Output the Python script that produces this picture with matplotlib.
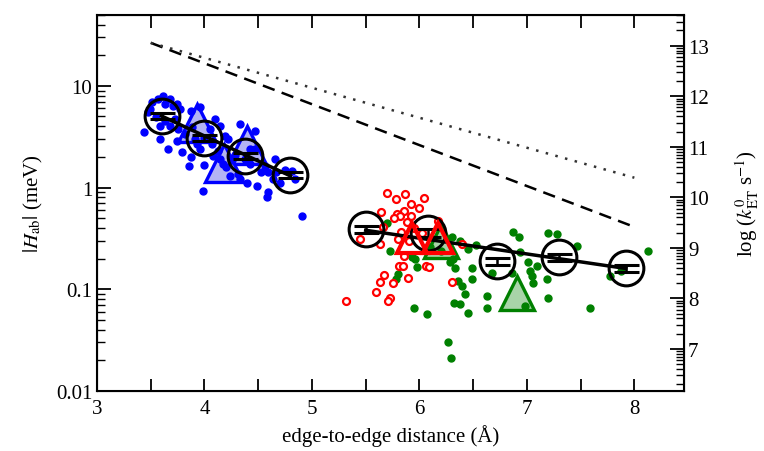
import numpy as np
import matplotlib
matplotlib.use("Agg")
import matplotlib.pyplot as plt
from matplotlib.ticker import LogLocator, FixedLocator, FixedFormatter, MultipleLocator, NullFormatter

plt.rcParams['font.family'] = ['Liberation Serif', 'DejaVu Serif']
plt.rcParams['mathtext.fontset'] = 'stix'

# blue set (short distances)
blue_x = [3.44, 3.47, 3.49, 3.51, 3.57, 3.61, 3.63, 3.68, 3.71, 3.74, 3.77, 3.55, 3.59, 3.68,
          3.63, 3.73, 3.74, 3.79, 3.87, 3.86, 4.00, 3.99, 3.82, 3.88, 3.91, 3.96, 4.05, 4.07,
          4.10, 4.14, 4.19, 4.22, 4.13, 4.14, 4.17, 4.24, 4.31, 4.33, 4.28, 4.38, 4.42, 4.40,
          4.49, 4.53, 4.56, 4.59, 4.66, 4.67, 4.59, 4.58, 4.70, 4.75, 4.84, 4.91, 4.47, 4.33,
          3.96, 3.87, 4.00, 3.59, 3.66, 3.75, 4.42, 4.47, 4.64, 4.81, 4.20, 4.26, 4.08, 3.93]
blue_y = [3.52, 5.54, 5.94, 6.96, 7.45, 7.96, 6.65, 7.45, 6.35, 6.65, 5.94, 4.95, 4.04, 4.04,
          4.5, 4.7, 2.87, 2.24, 2.0, 1.63, 1.66, 0.93, 3.37, 3.95, 3.0, 2.4, 3.8, 2.7,
          4.7, 4.04, 3.22, 3.0, 2.3, 1.9, 1.7, 1.3, 1.36, 1.2, 2.1, 1.9, 2.4, 1.12,
          1.03, 1.42, 1.63, 1.42, 1.9, 1.42, 0.90, 0.80, 1.1, 1.5, 1.22, 0.52, 3.6, 4.2,
          6.2, 5.7, 3.1, 3.0, 2.4, 3.8, 1.7, 2.4, 1.2, 1.45, 1.6, 1.85, 2.05, 2.7]

# red set (open circles)
red_x = [5.70, 5.87, 5.78, 6.04, 5.92, 6.00, 5.86, 5.64, 5.79, 5.82, 5.92, 5.76, 5.88, 5.66,
         5.83, 5.80, 5.63, 6.40, 5.90, 5.86, 5.81, 5.85, 6.06, 6.09, 5.89, 5.67, 5.63, 5.75,
         5.60, 6.30, 5.73, 5.71, 5.32, 5.45, 6.17, 5.95, 6.02]
red_y = [0.88, 0.86, 0.77, 0.79, 0.69, 0.63, 0.59, 0.58, 0.55, 0.52, 0.52, 0.50, 0.46, 0.41,
         0.365, 0.31, 0.28, 0.28, 0.30, 0.21, 0.17, 0.17, 0.17, 0.165, 0.13, 0.137, 0.117, 0.115,
         0.093, 0.117, 0.082, 0.076, 0.076, 0.31, 0.47, 0.40, 0.36]

# green set (filled dots)
green_x = [5.70, 5.73, 5.93, 5.96, 5.98, 5.80, 5.78, 5.95, 6.07, 6.27, 6.29, 6.31, 6.28, 6.33,
           6.36, 6.40, 6.42, 6.49, 6.49, 6.53, 6.32, 6.38, 6.45, 6.63, 6.63, 6.87, 6.93, 6.94,
           6.68, 7.20, 7.28, 7.47, 7.01, 7.09, 7.03, 7.05, 7.06, 6.86, 7.19, 7.20, 7.59, 8.13,
           6.98, 7.77, 7.88, 6.30, 6.38, 6.45, 6.10, 6.20]
green_y = [0.45, 0.24, 0.206, 0.20, 0.165, 0.14, 0.125, 0.065, 0.057, 0.030, 0.021, 0.20, 0.185, 0.16,
           0.12, 0.107, 0.089, 0.125, 0.16, 0.27, 0.074, 0.071, 0.059, 0.086, 0.066, 0.365, 0.33, 0.23,
           0.146, 0.36, 0.35, 0.265, 0.185, 0.17, 0.15, 0.135, 0.115, 0.146, 0.125, 0.082, 0.066, 0.237,
           0.068, 0.135, 0.15, 0.33, 0.30, 0.25, 0.26, 0.24]

# triangles
blue_tri_x = [3.93, 4.40, 4.18]
blue_tri_y = [4.3, 2.62, 1.75]
green_tri_x = [6.20, 6.91]
green_tri_y = [0.30, 0.091]
red_tri_x = [5.93, 6.17]
red_tri_y = [0.318, 0.318]

# averaged values with error bars
avg1_x = [3.6, 4.0, 4.38, 4.8]
avg1_y = [5.06, 3.07, 2.04, 1.33]
avg1_err = [0.35, 0.22, 0.15, 0.10]
avg2_x = [5.5, 6.08, 6.72, 7.3, 7.92]
avg2_y = [0.39, 0.36, 0.189, 0.206, 0.161]
avg2_err = [0.03, 0.03, 0.015, 0.016, 0.013]

# trend lines
trend1_x = [3.6, 4.8]
trend1_y = [5.06, 1.30]
trend2_x = [5.5, 7.92]
trend2_y = [0.38, 0.16]

# reference lines
dashed_x = [3.5, 8.0]
dashed_y = [26.5, 0.41]
dotted_x = [3.5, 8.0]
dotted_y = [26.5, 1.25]

fig = plt.figure(figsize=(7.64, 4.52), dpi=100)
ax = fig.add_axes([0.127, 0.133, 0.768, 0.832])

ax.plot(dashed_x, dashed_y, color='black', lw=1.8, ls=(0, (5, 3)))
ax.plot(dotted_x, dotted_y, color='#333333', lw=1.8, ls=(0, (1, 3)))

ax.plot(blue_tri_x, blue_tri_y, '^', ms=27, mfc='#b4b4f4', mec='blue', mew=2.4, ls='none', zorder=2)
ax.plot(green_tri_x, green_tri_y, '^', ms=24, mfc='#a8d4a8', mec='green', mew=2.4, ls='none', zorder=2)

ax.plot(blue_x, blue_y, 'o', ms=5, color='blue', ls='none', zorder=3)
ax.plot(green_x, green_y, 'o', ms=5, color='green', ls='none', zorder=3)
ax.plot(red_x, red_y, 'o', ms=5, mfc='white', mec='red', mew=1.6, ls='none', zorder=3)

ax.plot(trend1_x, trend1_y, color='black', lw=2.5, zorder=4)
ax.plot(trend2_x, trend2_y, color='black', lw=2.5, zorder=4)

for xs, ys, es in [(avg1_x, avg1_y, avg1_err), (avg2_x, avg2_y, avg2_err)]:
    ax.errorbar(xs, ys, yerr=es, fmt='o', ms=25, mfc='none', mec='black', mew=2.2,
                ecolor='black', elinewidth=1.8, capsize=9, capthick=1.8, zorder=6)

ax.plot(red_tri_x, red_tri_y, '^', ms=22, mfc='none', mec='red', mew=3.0, ls='none', zorder=7)

ax.set_yscale('log')
ax.set_xlim(3, 8.46)
ax.set_ylim(0.01, 50)
ax.xaxis.set_major_locator(MultipleLocator(1))
ax.xaxis.set_minor_locator(MultipleLocator(0.5))
ax.yaxis.set_major_locator(FixedLocator([0.01, 0.1, 1, 10]))
ax.yaxis.set_major_formatter(FixedFormatter(['0.01', '0.1', '1', '10']))
ax.yaxis.set_minor_locator(LogLocator(base=10, subs=np.arange(2, 10)))
ax.yaxis.set_minor_formatter(NullFormatter())
ax.tick_params(axis='x', which='both', direction='in', top=True, length=9, width=1.3, labelsize=15, pad=6)
ax.tick_params(axis='y', which='major', direction='in', right=False, length=10, width=1.3, labelsize=15)
ax.tick_params(axis='y', which='minor', direction='in', right=False, length=6, width=1.0)
ax.set_xlabel('edge-to-edge distance (Å)', fontsize=15)
ax.set_ylabel(r'$|H_{\rm ab}|$ (meV)', fontsize=15, labelpad=8)
for s in ax.spines.values():
    s.set_linewidth(1.5)

ax2 = ax.twinx()
ax2.set_yscale('log')
ax2.set_ylim(10 ** 6.17, 10 ** 13.61)
ax2.yaxis.set_major_locator(FixedLocator([10.0 ** n for n in range(7, 14)]))
ax2.yaxis.set_major_formatter(FixedFormatter([str(n) for n in range(7, 14)]))
ax2.yaxis.set_minor_locator(LogLocator(base=10, subs=np.arange(2, 10), numticks=20))
ax2.yaxis.set_minor_formatter(NullFormatter())
ax2.tick_params(axis='y', which='major', direction='in', length=10, width=1.3, labelsize=15, pad=3)
ax2.tick_params(axis='y', which='minor', direction='in', length=6, width=1.0)
ax2.set_ylabel(r'log ($k^0_{\rm ET}$ s$^{-1}$)', fontsize=15, labelpad=18)

fig.savefig('out.png', dpi=100)
